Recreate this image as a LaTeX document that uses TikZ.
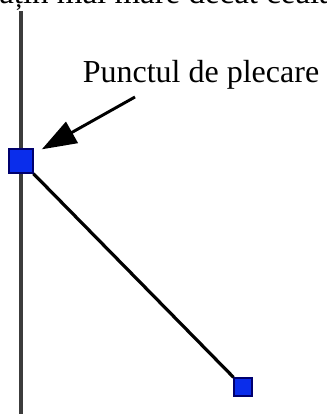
\documentclass[tikz,border=0pt]{standalone}
\usepackage{fontspec}
\setmainfont{Liberation Serif}
\usetikzlibrary{arrows.meta}
\definecolor{ptfill}{RGB}{10,45,235}
\definecolor{ptedge}{RGB}{0,0,110}
\definecolor{axisgray}{RGB}{60,60,60}
\begin{document}
\begin{tikzpicture}[
x=0.75pt,y=-0.75pt,
every node/.style={font=\fontsize{24}{28}\selectfont},
point/.style={rectangle,draw=ptedge,fill=ptfill,line width=1pt,inner sep=0pt},
pointer/.style={line width=2.2pt,-{Triangle[length=26pt,width=18pt]}}
]
\useasboundingbox (0,0) rectangle (327,414);
\begin{scope}
\clip (0,0) rectangle (327,414);
\node[anchor=base west,inner sep=0pt,font=\fontsize{24.7}{30}\selectfont] (caption) at (-1,3) {ațin mai mare decât cealaltă};
\end{scope}
\draw[axisgray,line width=2.6pt] (21,11) -- (21,414);
\node[point,minimum size=18pt] (start) at (21,161) {};
\node[point,minimum size=13.5pt] (end) at (243,387) {};
\draw[line width=2.4pt] (start) -- (end);
\node[anchor=base,inner sep=0pt] (label) at (201,82) {Punctul de plecare};
\coordinate (tail) at (135,97);
\draw[pointer,shorten >=7pt] (tail) -- (start);
\end{tikzpicture}
\end{document}
